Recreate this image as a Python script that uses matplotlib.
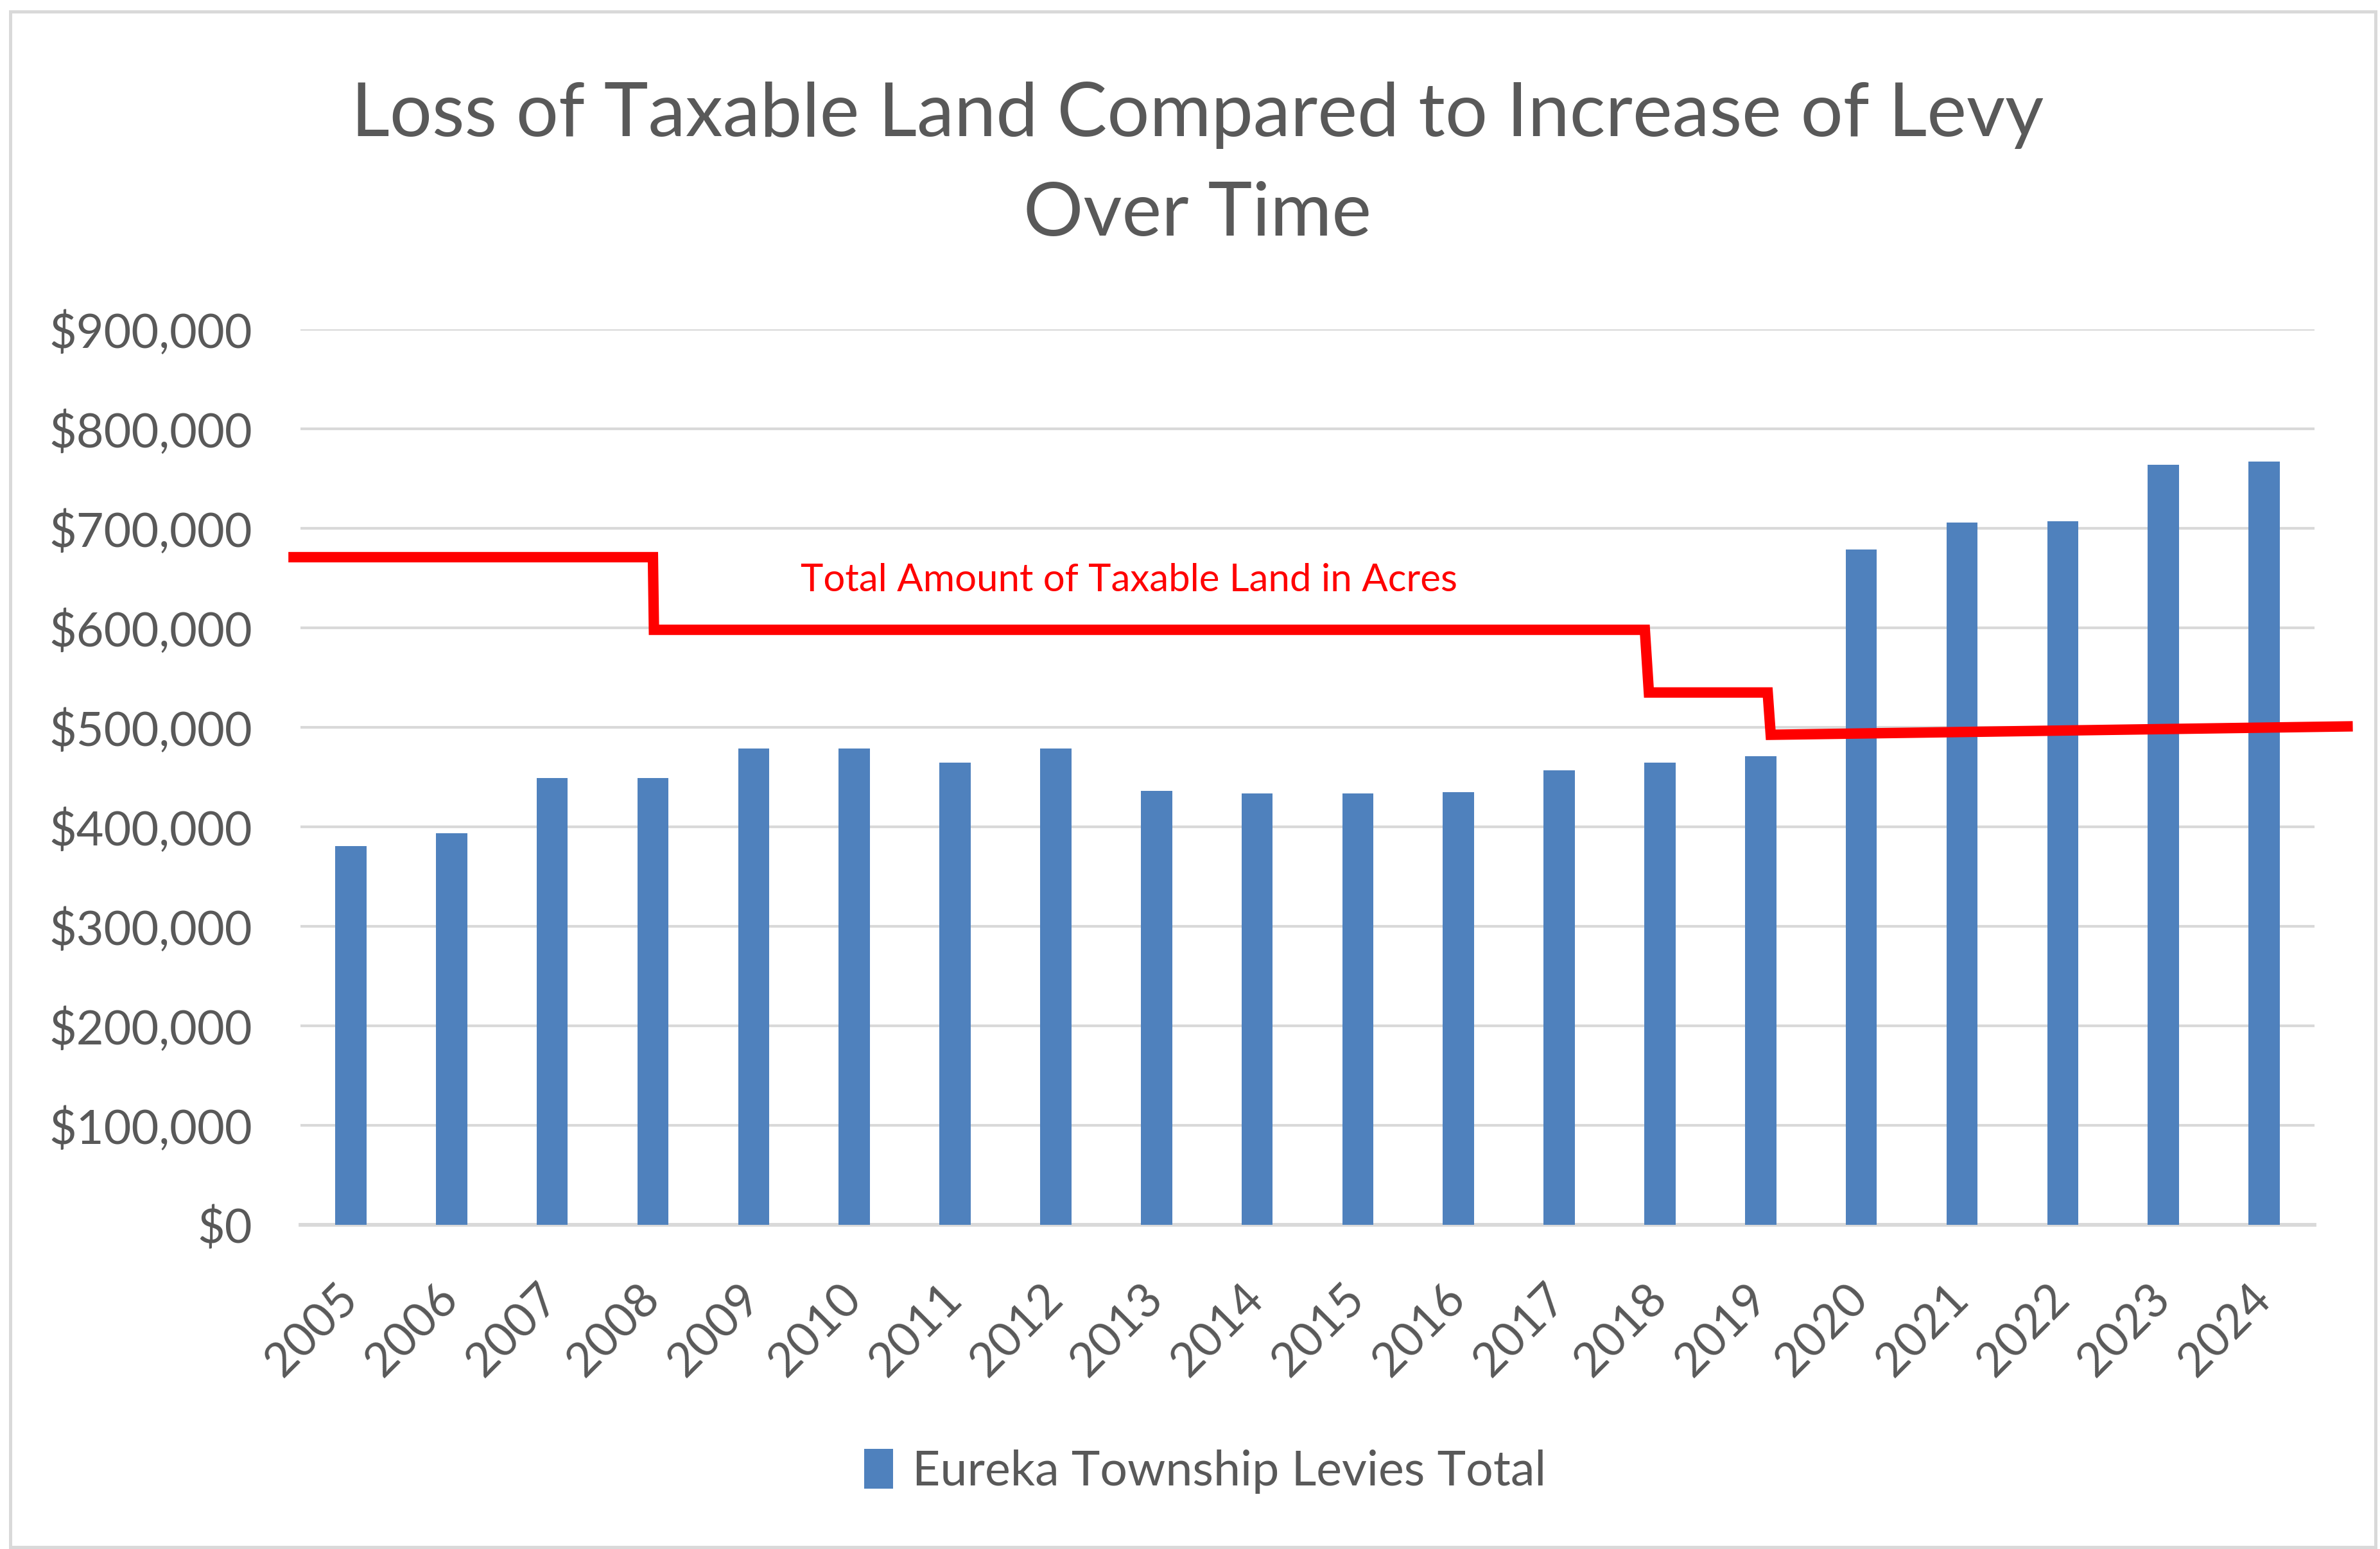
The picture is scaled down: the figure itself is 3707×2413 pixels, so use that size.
import matplotlib
matplotlib.use("Agg")
import matplotlib.pyplot as plt
from matplotlib.patches import Rectangle, Patch
from matplotlib.ticker import FuncFormatter

years = ["2005", "2006", "2007", "2008", "2009", "2010", "2011", "2012", "2013", "2014",
         "2015", "2016", "2017", "2018", "2019", "2020", "2021", "2022", "2023", "2024"]
levies = [380500, 393500, 449000, 449000, 479000, 479000, 464500, 479000, 436000, 433500,
          433500, 435000, 457000, 464500, 471000, 678500, 706000, 707000, 764000, 767000]

# Hand-drawn step line "Total Amount of Taxable Land in Acres" (position in category units, height in axis units)
land_x = [-0.62, 3.0, 3.01, 12.85, 12.89, 14.07, 14.10, 19.88]
land_y = [671000, 671000, 598000, 598000, 535000, 535000, 492500, 501000]

yticks = [0, 100000, 200000, 300000, 400000, 500000, 600000, 700000, 800000, 900000]

W, H = 3707, 2413
DPI = 300
fig = plt.figure(figsize=(W / DPI, H / DPI), dpi=DPI)
fig.patch.set_facecolor("white")

font = ["Lato", "DejaVu Sans"]
gray = "#595959"

ax = fig.add_axes([468 / W, 1 - 1908 / H, (3605 - 468) / W, (1908 - 513) / H])
x = list(range(len(years)))
ax.bar(x, levies, width=0.31, color="#4F81BD", zorder=3, label="Eureka Township Levies Total")
ax.set_xlim(-0.5, len(years) - 0.5)
ax.set_ylim(0, 900000)
ax.set_yticks(yticks)
ax.yaxis.set_major_formatter(FuncFormatter(lambda v, p: "${:,.0f}".format(v)))
ax.grid(axis="y", color="#D9D9D9", linewidth=1.0, zorder=0)
ax.set_axisbelow(True)
for s in ["top", "right", "left"]:
    ax.spines[s].set_visible(False)
ax.spines["bottom"].set_color("#D9D9D9")
ax.spines["bottom"].set_linewidth(1.4)
ax.tick_params(axis="both", length=0, colors=gray)
ax.tick_params(axis="y", pad=18)
ax.tick_params(axis="x", pad=25)
ax.set_xticks(x)
ax.set_xticklabels(years, rotation=45, ha="right", rotation_mode="anchor", va="center")
for lbl in ax.get_yticklabels() + ax.get_xticklabels():
    lbl.set_fontfamily(font)
    lbl.set_fontsize(17.7)
    lbl.set_color(gray)

ax.plot(land_x, land_y, color="#FF0000", linewidth=3.9, zorder=5, clip_on=False,
        solid_joinstyle="miter", solid_capstyle="butt")
ax.text(7.73, 647500, "Total Amount of Taxable Land in Acres", color="#FF0000",
        fontsize=14.4, family=font, ha="center", va="center", zorder=6)

fig.text(1865 / W, 1 - 180 / H, "Loss of Taxable Land Compared to Increase of Levy",
         ha="center", va="center", fontsize=28, color=gray, family=font)
fig.text(1865 / W, 1 - 334 / H, "Over Time",
         ha="center", va="center", fontsize=28, color=gray, family=font)

leg = fig.legend(handles=[Patch(facecolor="#4F81BD", label="Eureka Township Levies Total")],
                 loc="center", bbox_to_anchor=(1877 / W, 1 - 2292 / H), frameon=False,
                 prop={"family": font, "size": 18.1}, handlelength=0.6, handleheight=0.9,
                 handletextpad=0.4)
for t in leg.get_texts():
    t.set_color(gray)

fig.patches.append(Rectangle((16 / W, 3 / H), (3700 - 16) / W, (2395 - 3) / H,
                             transform=fig.transFigure, fill=False,
                             edgecolor="#D9D9D9", linewidth=1.2))

fig.savefig("out.png", dpi=DPI, facecolor="white")
